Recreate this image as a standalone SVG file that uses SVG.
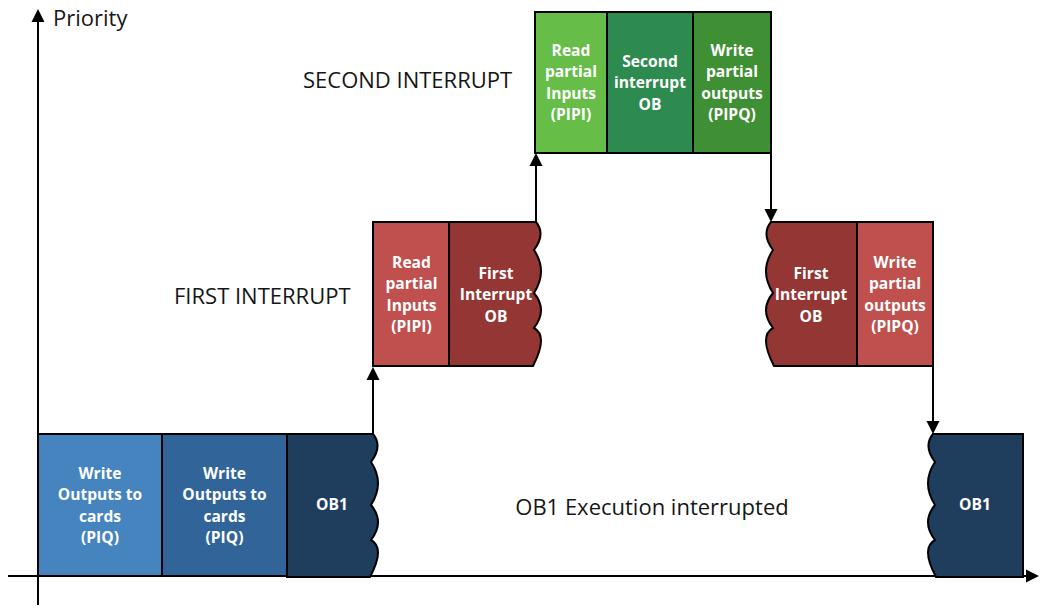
<svg xmlns="http://www.w3.org/2000/svg" width="1040" height="608" viewBox="0 0 1040 608">
  <style>
    .blk { stroke: #000; stroke-width: 2; stroke-linejoin: miter; }
    .nt { font-family: "Open Sans", "Liberation Sans", sans-serif; font-weight: 700; font-size: 15.6px; fill: #fff; text-anchor: middle; }
    .lbl { font-family: "Open Sans", "Liberation Sans", sans-serif; font-size: 22px; fill: #161616; }
    .ax, .cn { stroke: #000; stroke-width: 2; fill: none; }
    .cn { marker-end: url(#ah); }
    .ax { marker-end: url(#ah); }
  </style>
  <defs>
    <marker id="ah" markerUnits="userSpaceOnUse" markerWidth="14" markerHeight="14" refX="0" refY="6.5" orient="auto" overflow="visible">
      <path d="M0,0 L13,6.5 L0,13 z" fill="#000"/>
    </marker>
  </defs>

  <!-- axes -->
  <g id="axes">
    <line class="ax" x1="38" y1="605" x2="38" y2="22"/>
    <line class="ax" x1="8" y1="576" x2="1026" y2="576"/>
    <text class="lbl" x="53" y="26">Priority</text>
  </g>

  <!-- main cycle (OB1 before interruption) -->
  <g id="piq-1">
    <rect class="blk" x="38" y="434" width="124" height="142" fill="#4584BF"/>
    <text class="nt"><tspan x="100" y="478.5">Write</tspan><tspan x="100" y="500">Outputs to</tspan><tspan x="100" y="521.5">cards</tspan><tspan x="100" y="543">(PIQ)</tspan></text>
  </g>
  <g id="piq-2">
    <rect class="blk" x="162" y="434" width="125" height="142" fill="#31659A"/>
    <text class="nt"><tspan x="224.5" y="478.5">Write</tspan><tspan x="224.5" y="500">Outputs to</tspan><tspan x="224.5" y="521.5">cards</tspan><tspan x="224.5" y="543">(PIQ)</tspan></text>
  </g>
  <g id="ob1-a">
    <path class="blk" fill="#1F3D5C" d="M287,434 H373 q10,12 -2,28 q14,21 0,43 q14,17 0,35 q14.5,8 -1,37 H287 Z"/>
    <text class="nt" x="332" y="509.5">OB1</text>
  </g>

  <!-- first interrupt, entry -->
  <g id="pipi-1">
    <rect class="blk" x="373" y="222" width="76" height="144" fill="#C0504D"/>
    <text class="nt"><tspan x="411.5" y="267.5">Read</tspan><tspan x="411.5" y="289">partial</tspan><tspan x="411.5" y="310.5">Inputs</tspan><tspan x="411.5" y="332">(PIPI)</tspan></text>
  </g>
  <g id="int1-a">
    <path class="blk" fill="#943634" d="M449,222 H536 q10,12 -2,28 q14,21 0,43 q14,17 0,35 q14.5,8 -1,38 H449 Z"/>
    <text class="nt"><tspan x="496" y="278.5">First</tspan><tspan x="496" y="300">Interrupt</tspan><tspan x="496" y="321.5">OB</tspan></text>
  </g>

  <!-- second interrupt -->
  <g id="pipi-2">
    <rect class="blk" x="535" y="12" width="72" height="141" fill="#66BD48"/>
    <text class="nt"><tspan x="571" y="55.5">Read</tspan><tspan x="571" y="77">partial</tspan><tspan x="571" y="98.5">Inputs</tspan><tspan x="571" y="120">(PIPI)</tspan></text>
  </g>
  <g id="int2">
    <rect class="blk" x="607" y="12" width="86" height="141" fill="#2E8B50"/>
    <text class="nt"><tspan x="650" y="66.5">Second</tspan><tspan x="650" y="88">interrupt</tspan><tspan x="650" y="109.5">OB</tspan></text>
  </g>
  <g id="pipq-2">
    <rect class="blk" x="693" y="12" width="78" height="141" fill="#3F8F35"/>
    <text class="nt"><tspan x="732" y="55.5">Write</tspan><tspan x="732" y="77">partial</tspan><tspan x="732" y="98.5">outputs</tspan><tspan x="732" y="120">(PIPQ)</tspan></text>
  </g>

  <!-- first interrupt, resume -->
  <g id="int1-b">
    <path class="blk" fill="#943634" d="M771,222 q-10,12 2,28 q-14,21 0,43 q-14,17 0,35 q-14.5,8 1,38 H857 V222 Z"/>
    <text class="nt"><tspan x="811" y="278.5">First</tspan><tspan x="811" y="300">Interrupt</tspan><tspan x="811" y="321.5">OB</tspan></text>
  </g>
  <g id="pipq-1">
    <rect class="blk" x="857" y="222" width="76" height="144" fill="#C0504D"/>
    <text class="nt"><tspan x="895" y="267.5">Write</tspan><tspan x="895" y="289">partial</tspan><tspan x="895" y="310.5">outputs</tspan><tspan x="895" y="332">(PIPQ)</tspan></text>
  </g>

  <!-- main cycle (OB1 resumed) -->
  <g id="ob1-b">
    <path class="blk" fill="#1F3D5C" d="M933,434 q-10,12 2,28 q-14,21 0,43 q-14,17 0,35 q-14.5,8 1,37 H1023 V434 Z"/>
    <text class="nt" x="975" y="509.5">OB1</text>
  </g>

  <!-- level labels -->
  <g id="labels">
    <text class="lbl" x="303" y="88">SECOND INTERRUPT</text>
    <text class="lbl" x="174" y="304">FIRST INTERRUPT</text>
    <text class="lbl" x="652" y="515" text-anchor="middle">OB1 Execution interrupted</text>
  </g>

  <!-- transitions between priority levels -->
  <g id="connectors">
    <line class="cn" x1="373" y1="434" x2="373" y2="380"/>
    <line class="cn" x1="536" y1="222" x2="536" y2="166"/>
    <line class="cn" x1="771" y1="153" x2="771" y2="209"/>
    <line class="cn" x1="933" y1="366" x2="933" y2="421"/>
  </g>
</svg>
